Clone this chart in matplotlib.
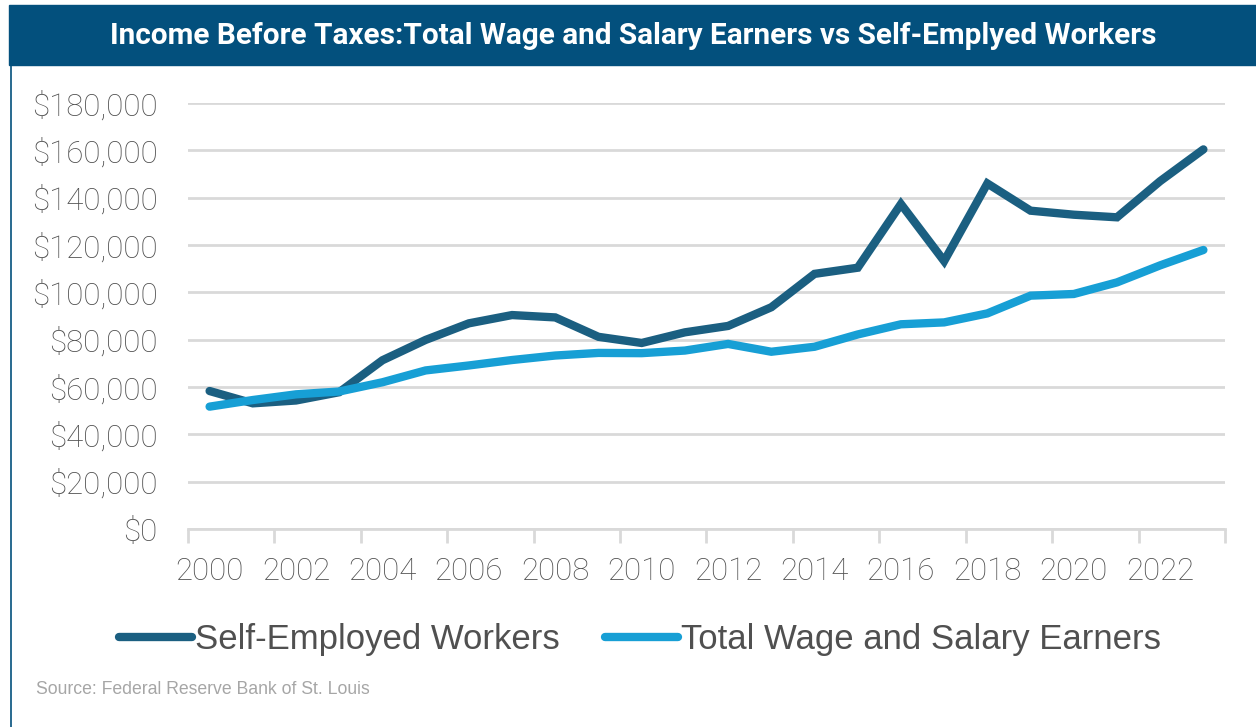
import matplotlib
matplotlib.use("Agg")
import matplotlib.pyplot as plt
from matplotlib.lines import Line2D
from matplotlib.patches import Rectangle
from matplotlib.ticker import FuncFormatter

# income before taxes, yearly
years = list(range(2000, 2024))
self_employed = [58300, 53100, 54300, 57800, 71300, 79900, 86900, 90400, 89400,
                 81200, 78600, 83100, 85800, 93700, 107800, 110400, 137300,
                 113200, 146000, 134500, 132800, 131700, 147000, 160400]
wage_salary = [51700, 54500, 56900, 58100, 62000, 67000, 69100, 71400, 73300,
               74400, 74300, 75400, 78200, 74900, 77000, 82200, 86500, 87300,
               91100, 98600, 99300, 104200, 111400, 117900]
series_names = ["Self-Employed Workers", "Total Wage and Salary Earners"]
y_ticks = list(range(0, 180001, 20000))

TITLE = "Income Before Taxes:Total Wage and Salary Earners vs Self-Emplyed Workers"
SOURCE = "Source: Federal Reserve Bank of St. Louis"

DARK = "#1b5f81"
LIGHT = "#179fd5"
BAR = "#03507d"
GRID = "#d9d9d9"
TEXT = "#505050"

W, H = 1256, 727
fig = plt.figure(figsize=(W / 100, H / 100), dpi=100)

# header band and left frame edge
fig.patches.append(Rectangle((9 / W, 1 - 65 / H), 1 - 9 / W, 60 / H,
                             transform=fig.transFigure, color=BAR, zorder=0))
fig.lines.append(Line2D([11 / W, 11 / W], [0, 1 - 65 / H], transform=fig.transFigure,
                        color=BAR, lw=1.2))
fig.text(633 / W, 1 - 36 / H, TITLE, color="white", fontsize=21.4, fontweight="bold",
         family="Roboto", ha="center", va="center")

ax = fig.add_axes([188 / W, (H - 529) / H, (1225 - 188) / W, (529 - 103) / H])
x = list(range(len(years)))
ax.plot(x, self_employed, color=DARK, lw=6, solid_capstyle="round",
        solid_joinstyle="miter", label=series_names[0], zorder=3)
ax.plot(x, wage_salary, color=LIGHT, lw=6, solid_capstyle="round",
        solid_joinstyle="miter", label=series_names[1], zorder=3)

ax.set_xlim(-0.5, len(years) - 0.5)
ax.set_ylim(0, 180000)
ax.set_yticks(y_ticks)
ax.yaxis.set_major_formatter(FuncFormatter(lambda v, p: f"${v:,.0f}"))
ax.grid(axis="y", color=GRID, lw=2)
ax.set_axisbelow(True)

ax.set_xticks(x[::2])
ax.set_xticklabels([str(y) for y in years[::2]])
ax.set_xticks([i - 0.5 for i in range(0, len(years) + 1, 2)], minor=True)
ax.tick_params(axis="x", which="major", length=0, pad=20)
ax.tick_params(axis="x", which="minor", length=10, width=2, color=GRID)
ax.tick_params(axis="y", length=0, pad=22)
for lab in ax.get_xticklabels() + ax.get_yticklabels():
    lab.set_family("Roboto")
    lab.set_fontweight("light")
    lab.set_fontsize(22.5)
    lab.set_color(TEXT)

for side in ["top", "right", "left"]:
    ax.spines[side].set_visible(False)
ax.spines["bottom"].set_color(GRID)
ax.spines["bottom"].set_linewidth(2)

handles, labels = ax.get_legend_handles_labels()
leg = fig.legend(handles, labels, loc="center", bbox_to_anchor=(640 / W, 1 - 640 / H),
                 ncol=2, frameon=False, handlelength=2.1, handletextpad=0.1,
                 columnspacing=1.3, prop={"family": "Liberation Sans", "size": 25})
for t in leg.get_texts():
    t.set_color(TEXT)
for h in leg.get_lines():
    h.set_linewidth(6)

fig.text(36 / W, 1 - 690 / H, SOURCE, color="#a6a6a6", fontsize=12.7,
         family="Liberation Sans", ha="left", va="center")

fig.savefig("out.png", dpi=100, facecolor="white")
